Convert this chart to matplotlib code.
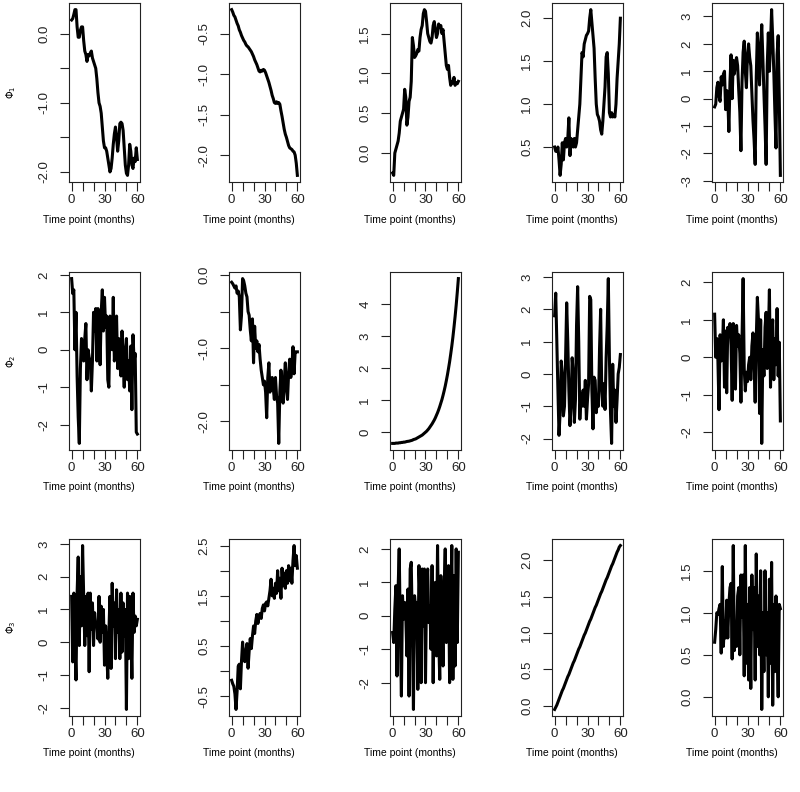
import matplotlib
matplotlib.use("Agg")
import matplotlib.pyplot as plt

plt.rcParams["font.family"] = ["Liberation Sans", "DejaVu Sans"]

months = list(range(61))

# row 1 (Phi_1)
phi1_c1 = [0.20, 0.22, 0.28, 0.35, 0.35, 0.10, -0.05, -0.05, 0.05, 0.10,
           0.10, -0.10, -0.25, -0.30, -0.40, -0.30, -0.32, -0.28, -0.25, -0.35,
           -0.40, -0.45, -0.50, -0.65, -0.85, -1.00, -1.05, -1.15, -1.35, -1.55,
           -1.65, -1.65, -1.70, -1.80, -1.90, -2.00, -1.95, -1.80, -1.60, -1.45,
           -1.35, -1.50, -1.70, -1.55, -1.30, -1.28, -1.30, -1.40, -1.65, -1.90,
           -2.02, -2.05, -1.90, -1.60, -1.70, -1.90, -1.95, -1.80, -1.85, -1.65,
           -1.82]
phi1_c2 = [-0.20, -0.23, -0.27, -0.29, -0.33, -0.37, -0.40, -0.45, -0.48, -0.52,
           -0.55, -0.58, -0.60, -0.63, -0.65, -0.66, -0.68, -0.70, -0.72, -0.75,
           -0.78, -0.82, -0.85, -0.88, -0.92, -0.96, -0.97, -0.95, -0.96, -0.94,
           -0.95, -0.98, -1.02, -1.06, -1.10, -1.15, -1.20, -1.26, -1.30, -1.35,
           -1.36, -1.34, -1.36, -1.35, -1.37, -1.45, -1.52, -1.60, -1.68, -1.74,
           -1.78, -1.83, -1.88, -1.91, -1.92, -1.93, -1.95, -1.96, -2.00, -2.10,
           -2.25]
phi1_c3 = [-0.25, -0.28, 0.00, 0.05, 0.10, 0.15, 0.25, 0.40, 0.45, 0.50,
           0.55, 0.80, 0.70, 0.35, 0.45, 0.65, 0.70, 0.90, 1.45, 1.35,
           1.20, 1.22, 1.25, 1.30, 1.28, 1.45, 1.55, 1.60, 1.75, 1.80,
           1.78, 1.65, 1.50, 1.45, 1.40, 1.38, 1.45, 1.60, 1.65, 1.55,
           1.45, 1.50, 1.62, 1.58, 1.60, 1.50, 1.55, 1.40, 1.25, 1.10,
           1.05, 1.10, 0.95, 0.85, 0.90, 0.88, 0.95, 0.85, 0.88, 0.87,
           0.90]
phi1_c4 = [0.50, 0.45, 0.45, 0.50, 0.35, 0.17, 0.30, 0.55, 0.35, 0.55,
           0.60, 0.50, 0.60, 0.84, 0.40, 0.60, 0.55, 0.50, 0.60, 0.50,
           0.55, 0.70, 0.85, 1.00, 1.30, 1.60, 1.55, 1.70, 1.75, 1.80,
           1.82, 1.85, 2.00, 2.10, 1.95, 1.80, 1.65, 1.30, 1.00, 0.88,
           0.85, 0.80, 0.70, 0.65, 0.80, 1.00, 1.20, 1.55, 1.60, 1.35,
           0.90, 0.85, 0.90, 0.85, 0.88, 0.85, 1.00, 1.30, 1.50, 1.70,
           2.00]
phi1_c5 = [-0.3, -0.2, 0.4, 0.6, 0.1, -0.1, 0.8, 0.5, 0.9, 1.0,
           -0.4, 0.3, 0.0, -1.2, 0.6, 1.6, 0.0, 1.4, 0.9, 1.3,
           1.5, 1.2, 0.3, -0.5, -1.9, 0.6, 1.7, 2.1, 1.0, 0.4,
           1.6, 2.0, 1.5, 1.2, 0.2, -0.8, -1.5, -2.4, 0.8, 2.4,
           1.5, 0.5, 1.9, 2.7, 1.5, 0.2, -1.0, -2.4, 1.2, 2.4,
           1.0, 2.0, 3.25, 2.2, 1.0, -0.5, -1.8, 1.6, 2.3, 0.0,
           -2.8]

# row 2 (Phi_2)
phi2_c1 = [1.9, 1.5, 1.6, 0.0, 1.0, -0.7, -1.8, -2.5, -0.5, 0.3,
           0.1, -0.3, 0.3, 0.7, -0.8, 0.0, -0.2, -0.3, -1.1, -0.3,
           1.0, 0.5, 1.1, -0.3, 1.1, 0.6, -0.4, 1.0, 1.6, 0.5,
           1.4, 0.6, 0.9, -0.8, -1.0, 0.9, 0.5, 0.0, 1.4, -0.3,
           0.2, 0.9, -0.5, 0.3, -0.4, -0.7, 0.5, -0.3, -1.0, 0.0,
           0.3, -0.8, -0.3, -1.1, 0.1, -1.6, 0.4, -0.3, -0.1, -2.2,
           -2.25]
phi2_c2 = [-0.10, -0.12, -0.15, -0.18, -0.15, -0.25, -0.22, -0.30, -0.75, -0.55,
           -0.05, -0.08, -0.15, -0.25, -0.30, -0.50, -0.55, -0.75, -0.90, -0.60,
           -1.20, -0.70, -1.00, -0.90, -1.05, -0.95, -1.15, -1.30, -1.40, -1.50,
           -1.45, -1.60, -1.95, -1.40, -1.20, -1.60, -1.45, -1.40, -1.55, -1.70,
           -1.40, -1.65, -1.75, -2.30, -1.60, -1.30, -1.50, -1.75, -1.45, -1.20,
           -1.55, -1.70, -1.35, -1.15, -1.40, -1.25, -0.98, -1.35, -1.05, -1.05,
           -1.05]
phi2_c3 = [-0.35, -0.35, -0.35, -0.34, -0.34, -0.34, -0.33, -0.33, -0.32, -0.32,
           -0.31, -0.31, -0.30, -0.29, -0.285, -0.28, -0.27, -0.26, -0.25, -0.23,
           -0.22, -0.21, -0.19, -0.17, -0.15, -0.13, -0.11, -0.09, -0.06, -0.03,
           0.00, 0.03, 0.07, 0.11, 0.16, 0.21, 0.26, 0.32, 0.38, 0.45,
           0.53, 0.61, 0.70, 0.80, 0.91, 1.02, 1.15, 1.29, 1.44, 1.61,
           1.79, 1.99, 2.20, 2.44, 2.69, 2.97, 3.28, 3.61, 3.97, 4.37,
           4.80]
phi2_c4 = [1.8, 2.5, 1.0, -0.5, -1.9, -1.2, 0.4, 0.0, -1.3, -1.0,
           0.5, 2.2, 1.0, -0.5, -1.6, -1.0, 0.5, 0.0, -1.5, -0.8,
           1.5, 2.7, 1.0, -1.4, -0.6, -1.0, -0.5, -1.0, -0.2, -1.4,
           -0.8, -0.3, 2.4, 2.3, -0.5, -1.7, -0.1, -0.2, -1.2, -0.8,
           -1.0, 0.8, 2.0, -0.5, -1.0, -0.3, -1.1, 0.5, 1.5, 2.95,
           0.5, -1.2, -2.15, 0.3, -1.0, -0.5, -1.5, -0.8, 0.0, 0.2,
           0.6]
phi2_c5 = [1.15, 0.0, 0.5, -0.1, -1.4, 0.6, -0.1, 0.2, 1.0, -0.8,
           0.7, -0.95, 0.8, 0.6, 0.9, 0.3, -1.15, 0.9, 0.7, -0.85,
           0.85, 0.3, 0.6, 0.1, -1.2, 0.5, 2.1, -0.3, -0.9, -0.4,
           -0.65, -0.2, 0.0, -0.6, 0.3, 0.65, -0.2, -1.2, 0.5, 1.6,
           1.0, -1.5, 1.0, -2.3, 0.2, -0.5, 0.8, 1.2, -0.3, 0.5,
           1.8, -0.8, 0.4, 1.0, -0.6, 0.5, -0.2, 1.3, -0.5, 0.4,
           -1.7]

# row 3 (Phi_3)
phi3_c1 = [1.4, -0.6, 1.5, 0.0, -1.15, 1.5, 2.6, -0.1, 2.0, 0.5,
           2.95, 1.4, -0.1, 1.4, 0.2, 1.5, -0.9, 1.5, 0.4, 1.2,
           -0.1, 0.9, 0.5, 0.6, 0.1, 1.4, 0.0, 1.1, 0.3, 1.0,
           -0.7, 0.5, -0.3, -1.1, 0.3, 1.4, -0.8, 1.8, 0.5, 1.2,
           -0.5, 1.6, 0.3, 1.0, -0.5, 1.5, -0.3, 1.2, 0.2, 1.0,
           -2.05, 1.5, -0.5, 1.4, 0.4, -1.1, 1.5, 0.3, 0.8, 0.5,
           0.7]
phi3_c2 = [-0.18, -0.25, -0.30, -0.45, -0.76, -0.40, 0.10, 0.14, -0.35, 0.20,
           0.58, 0.30, 0.19, 0.40, 0.55, 0.06, 0.40, 0.65, 0.45, 0.70,
           0.90, 0.75, 1.00, 1.13, 0.95, 1.10, 1.15, 1.05, 1.25, 1.32,
           1.20, 1.35, 1.38, 1.30, 1.45, 1.60, 1.83, 1.50, 1.65, 1.45,
           1.75, 1.55, 2.00, 1.60, 1.85, 1.45, 2.05, 1.70, 1.95, 1.65,
           2.00, 1.75, 2.10, 1.80, 2.05, 1.75, 2.20, 2.50, 2.10, 2.30,
           2.05]
phi3_c3 = [-0.5, -0.8, 0.2, 0.9, -1.8, 0.8, 2.0, -0.5, -2.4, 0.6,
           -0.1, 0.4, 0.0, -1.2, 0.8, -2.4, 1.4, 1.6, -0.5, -2.8,
           0.6, 0.2, 0.4, -2.2, 1.5, 0.5, -2.0, 1.4, -0.3, 1.4,
           -2.0, 0.9, 1.4, -0.2, 0.3, -1.0, 1.5, -2.0, 0.5, 1.0,
           -1.2, 2.1, -0.6, -1.9, 1.2, 0.0, -1.5, 0.8, 2.0, -0.8,
           0.5, 1.5, -2.0, 0.0, 2.1, -1.9, 1.2, -1.5, 2.0, -0.8,
           1.9]
phi3_c4 = [-0.05, -0.02, 0.01, 0.05, 0.09, 0.13, 0.17, 0.21, 0.24, 0.28,
           0.32, 0.36, 0.40, 0.43, 0.47, 0.51, 0.55, 0.59, 0.62, 0.66,
           0.70, 0.74, 0.78, 0.81, 0.85, 0.89, 0.93, 0.97, 1.00, 1.04,
           1.08, 1.12, 1.16, 1.19, 1.23, 1.27, 1.31, 1.35, 1.38, 1.42,
           1.46, 1.50, 1.54, 1.57, 1.61, 1.65, 1.69, 1.73, 1.76, 1.80,
           1.84, 1.88, 1.92, 1.95, 1.99, 2.03, 2.07, 2.11, 2.14, 2.18,
           2.20]
phi3_c5 = [0.65, 0.80, 1.00, 0.98, 1.05, 1.10, 0.52, 1.55, 0.60, 0.90,
           0.70, 1.15, 0.70, 1.10, 1.30, 1.35, 0.45, 1.80, 0.55, 0.85,
           0.60, 1.20, 1.30, 0.50, 1.45, 0.95, 1.45, 0.25, 1.80, 0.40,
           1.10, 0.20, 1.30, 0.10, 1.45, 0.80, 1.30, 0.20, 1.70, 0.60,
           1.20, 0.50, 1.50, -0.15, 1.00, 0.30, 1.50, 0.50, 1.00, 0.00,
           1.40, 0.40, 1.60, -0.10, 1.10, 0.30, 1.20, 0.60, 0.00, 1.10,
           1.05]

series = [[phi1_c1, phi1_c2, phi1_c3, phi1_c4, phi1_c5],
          [phi2_c1, phi2_c2, phi2_c3, phi2_c4, phi2_c5],
          [phi3_c1, phi3_c2, phi3_c3, phi3_c4, phi3_c5]]

# y ticks and the labels R kept (blank = tick drawn, label dropped)
yticks = [[[0.0, -0.5, -1.0, -1.5, -2.0], [-0.5, -1.0, -1.5, -2.0], [0.0, 0.5, 1.0, 1.5],
           [0.5, 1.0, 1.5, 2.0], [-3, -2, -1, 0, 1, 2, 3]],
          [[-2, -1, 0, 1, 2], [0.0, -0.5, -1.0, -1.5, -2.0], [0, 1, 2, 3, 4],
           [-2, -1, 0, 1, 2, 3], [-2, -1, 0, 1, 2]],
          [[-2, -1, 0, 1, 2, 3], [-0.5, 0.0, 0.5, 1.0, 1.5, 2.0, 2.5], [-2, -1, 0, 1, 2],
           [0.0, 0.5, 1.0, 1.5, 2.0], [0.0, 0.5, 1.0, 1.5]]]
ylabels = [[["0.0", "", "-1.0", "", "-2.0"], ["-0.5", "-1.0", "-1.5", "-2.0"],
            ["0.0", "0.5", "1.0", "1.5"], ["0.5", "1.0", "1.5", "2.0"],
            ["-3", "-2", "-1", "0", "1", "2", "3"]],
           [["-2", "-1", "0", "1", "2"], ["0.0", "", "-1.0", "", "-2.0"],
            ["0", "1", "2", "3", "4"], ["-2", "-1", "0", "1", "2", "3"],
            ["-2", "-1", "0", "1", "2"]],
           [["-2", "-1", "0", "1", "2", "3"], ["-0.5", "", "0.5", "", "1.5", "", "2.5"],
            ["-2", "-1", "0", "1", "2"], ["0.0", "0.5", "1.0", "1.5", "2.0"],
            ["0.0", "0.5", "1.0", "1.5"]]]
xticks = [0, 10, 20, 30, 40, 50, 60]
xlabels = ["0", "", "", "30", "", "", "60"]
row_names = [r"$\Phi_1$", r"$\Phi_2$", r"$\Phi_3$"]

W, H = 800, 792
fig = plt.figure(figsize=(W / 100, H / 100), dpi=100)

col_left = [69, 229, 390, 552, 712]
box_w = 71
row_box = [(3, 182), (272, 450), (539, 716)]

for r in range(3):
    top, bot = row_box[r]
    fig.text(11 / W, 1 - (top + bot) / 2 / H, row_names[r], rotation=90,
             ha="center", va="center", fontsize=7)
    for c in range(5):
        ax = fig.add_axes([col_left[c] / W, 1 - bot / H, box_w / W, (bot - top) / H])
        y = series[r][c]
        ax.plot(months, y, color="black", lw=2.2, solid_joinstyle="round")

        ax.set_xticks(xticks)
        ax.set_xticklabels(xlabels)
        ax.set_yticks(yticks[r][c])
        ax.set_yticklabels(ylabels[r][c], rotation=90, va="center")
        # R style 4% padding
        lo, hi = min(y), max(y)
        ax.set_ylim(lo - 0.04 * (hi - lo), hi + 0.04 * (hi - lo))
        ax.set_xlim(-2.4, 62.4)

        ax.tick_params(direction="out", length=6.5, width=0.8, labelsize=9.5,
                       colors="#222222")
        ax.tick_params(axis="y", pad=7)
        ax.tick_params(axis="x", pad=2)
        for s in ax.spines.values():
            s.set_linewidth(0.8)
            s.set_color("#222222")

        ax.set_xlabel("Time point (months)", fontsize=7.5, va="center")
        ax.xaxis.set_label_coords(0.28, -0.21)

fig.savefig("out.png", dpi=100, facecolor="white")
